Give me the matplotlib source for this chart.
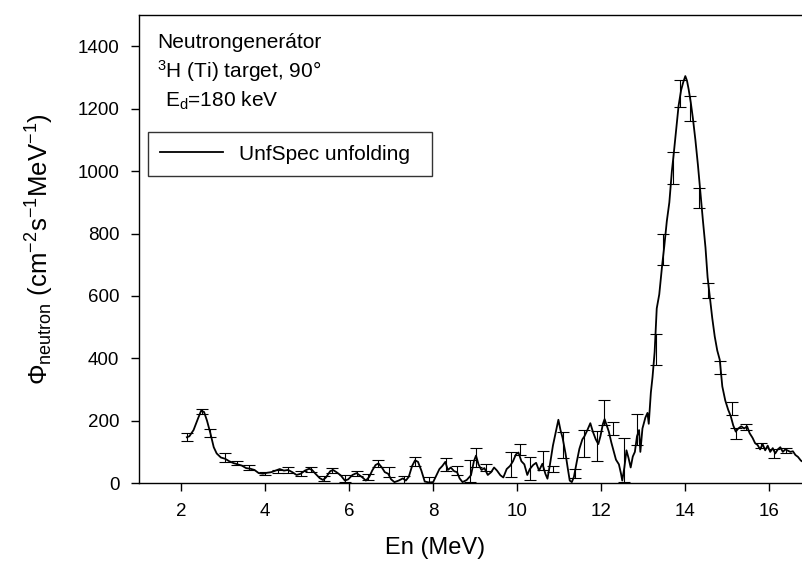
import matplotlib
matplotlib.use("Agg")
import matplotlib.pyplot as plt

plt.rcParams["font.family"] = ["Liberation Sans", "DejaVu Sans"]
plt.rcParams["mathtext.fontset"] = "custom"
plt.rcParams["mathtext.rm"] = "Liberation Sans"
plt.rcParams["mathtext.it"] = "Liberation Sans:italic"

# unfolded spectrum
energy = [2.14, 2.2, 2.3, 2.4, 2.48, 2.55, 2.62, 2.7, 2.78, 2.85, 2.95, 3.05, 3.15, 3.25,
          3.35, 3.45, 3.55, 3.65, 3.75, 3.85, 3.95, 4.05, 4.15, 4.25, 4.35, 4.45, 4.55,
          4.65, 4.75, 4.85, 4.95, 5.05, 5.12, 5.2, 5.3, 5.38, 5.45, 5.55, 5.62, 5.7, 5.8,
          5.9, 5.98, 6.08, 6.18, 6.25, 6.32, 6.4, 6.48, 6.55, 6.63, 6.7, 6.78, 6.85, 6.93,
          7.0, 7.08, 7.18, 7.28, 7.35, 7.42, 7.5, 7.57, 7.64, 7.72, 7.8, 7.9, 8.0, 8.08,
          8.15, 8.22, 8.29, 8.35, 8.42, 8.5, 8.57, 8.63, 8.7, 8.8, 8.9, 8.97, 9.02, 9.08,
          9.15, 9.22, 9.3, 9.38, 9.45, 9.52, 9.6, 9.67, 9.75, 9.83, 9.9, 9.97, 10.03, 10.1,
          10.17, 10.24, 10.3, 10.38, 10.45, 10.52, 10.6, 10.67, 10.72, 10.78, 10.85, 10.92,
          10.98, 11.03, 11.08, 11.15, 11.2, 11.25, 11.3, 11.35, 11.42, 11.48, 11.55, 11.6,
          11.67, 11.74, 11.8, 11.87, 11.93, 11.98, 12.04, 12.08, 12.13, 12.18, 12.24, 12.3,
          12.35, 12.42, 12.47, 12.5, 12.55, 12.6, 12.65, 12.7, 12.75, 12.8, 12.85, 12.9,
          12.93, 12.98, 13.05, 13.1, 13.13, 13.18, 13.22, 13.27, 13.32, 13.38, 13.45, 13.5,
          13.56, 13.62, 13.68, 13.72, 13.78, 13.84, 13.9, 13.95, 14.0, 14.04, 14.08, 14.13,
          14.18, 14.24, 14.3, 14.36, 14.42, 14.48, 14.53, 14.58, 14.64, 14.7, 14.76, 14.82,
          14.88, 14.95, 15.02, 15.08, 15.14, 15.2, 15.26, 15.33, 15.4, 15.47, 15.53, 15.6,
          15.66, 15.72, 15.78, 15.84, 15.9, 15.96, 16.02, 16.08, 16.14, 16.2, 16.26, 16.32,
          16.38, 16.44, 16.5, 16.56, 16.62, 16.68, 16.75, 16.8]
flux = [147, 150, 170, 205, 232, 228, 200, 160, 115, 95, 82, 78, 70, 64,
        60, 56, 48, 46, 42, 32, 30, 33, 35, 40, 45, 40, 42,
        35, 26, 30, 40, 46, 42, 30, 16, 10, 18, 38, 42, 35, 25,
        8, 12, 26, 32, 25, 18, 8, 20, 40, 58, 63, 50, 35, 30,
        12, 3, 8, 15, 8, 20, 55, 73, 68, 40, 5, 2, 3, 25,
        45, 55, 68, 42, 50, 38, 35, 15, 3, 10, 25, 70, 88, 60,
        42, 48, 26, 35, 50, 40, 25, 18, 45, 55, 70, 92, 98, 70,
        60, 26, 45, 58, 65, 40, 62, 30, 14, 60, 120, 165,
        203, 170, 145, 95, 50, 8, 3, 20, 70, 110, 140, 150,
        170, 192, 165, 140, 125, 150, 190, 205, 185, 165, 130, 100,
        75, 60, 30, 8, 50, 105, 80, 50, 85, 100, 150, 170,
        100, 175, 210, 225, 190, 290, 340, 420, 560, 605, 700, 760,
        840, 900, 1000, 1050, 1130, 1210, 1260, 1285, 1305, 1290, 1262, 1220,
        1170, 1100, 1020, 930, 840, 755, 660, 600, 530, 470, 425, 395,
        310, 265, 235, 215, 185, 165, 175, 182, 175, 182, 160, 145,
        128, 122, 108, 125, 105, 120, 100, 112, 95, 108, 115, 100,
        108, 104, 100, 102, 90, 84, 72, 68]

# error bars
err_energy = [2.14, 2.5, 2.69, 3.05, 3.33, 3.62, 4.0, 4.3, 4.55, 4.85, 5.1, 5.4, 5.6, 5.9,
              6.2, 6.45, 6.7, 6.95, 7.3, 7.57, 7.9, 8.3, 8.57, 8.88, 9.02, 9.25, 9.85,
              10.07, 10.3, 10.62, 10.85, 11.1, 11.38, 11.6, 11.9, 12.07, 12.27, 12.55,
              12.85, 13.3, 13.48, 13.7, 13.88, 14.12, 14.33, 14.55, 14.83, 15.1, 15.2,
              15.45, 15.8, 16.1, 16.4]
err_flux = [147, 230, 160, 82, 64, 50, 32, 38, 42, 30, 45, 15, 40, 15,
            30, 20, 62, 35, 10, 70, 10, 60, 40, 40, 82, 50, 60,
            108, 46, 72, 45, 122, 30, 126, 120, 225, 175, 74,
            172, 428, 750, 1010, 1250, 1200, 914, 617, 370, 238, 160,
            180, 120, 95, 105]
err_size = [12, 8, 13, 15, 6, 8, 5, 5, 10, 8, 8, 8, 8, 10,
            8, 10, 12, 15, 12, 15, 10, 20, 15, 35, 30, 10, 40,
            17, 37, 30, 10, 42, 15, 43, 48, 40, 20, 70,
            51, 51, 50, 50, 43, 40, 32, 25, 20, 21, 18,
            10, 8, 15, 8]

fig = plt.figure(figsize=(8.03, 5.65), dpi=100)
ax = fig.add_axes([0.173, 0.145, 0.827, 0.828])

ax.plot(energy, flux, color="black", lw=1.3, label="UnfSpec unfolding")
ax.errorbar(err_energy, err_flux, yerr=err_size, fmt="none", ecolor="black",
            elinewidth=0.8, capsize=4, capthick=0.8)

ax.set_xlim(1, 16.8)
ax.set_ylim(0, 1500)
ax.set_xticks([2, 4, 6, 8, 10, 12, 14, 16])
ax.set_yticks([0, 200, 400, 600, 800, 1000, 1200, 1400])
ax.tick_params(direction="out", length=6, width=1, labelsize=13.5, pad=8)
ax.spines["right"].set_visible(False)
for s in ["left", "bottom", "top"]:
    ax.spines[s].set_linewidth(1.0)

ax.set_xlabel("En (MeV)", fontsize=17)
ax.xaxis.set_label_coords(0.446, -0.115)
ax.set_ylabel(r"$\Phi_{\rm neutron}$ (cm$^{-2}$s$^{-1}$MeV$^{-1}$)", fontsize=18.5)
ax.yaxis.set_label_coords(-0.125, 0.5)

fig.text(0.1955, 0.915, "Neutrongenerátor", fontsize=15)
fig.text(0.1955, 0.862, r"$^{3}$H (Ti) target, 90°", fontsize=15)
fig.text(0.2055, 0.811, r"E$_{\rm d}$=180 keV", fontsize=15)

leg = ax.legend(loc="upper left", bbox_to_anchor=(0.184, 0.681, 0.354, 0.085),
                bbox_transform=fig.transFigure, mode="expand", fontsize=15,
                frameon=True, fancybox=False, handlelength=3.0, borderpad=0.6,
                borderaxespad=0)
leg.get_frame().set_edgecolor("black")
leg.get_frame().set_linewidth(1.0)

fig.savefig("out.png", dpi=100)
